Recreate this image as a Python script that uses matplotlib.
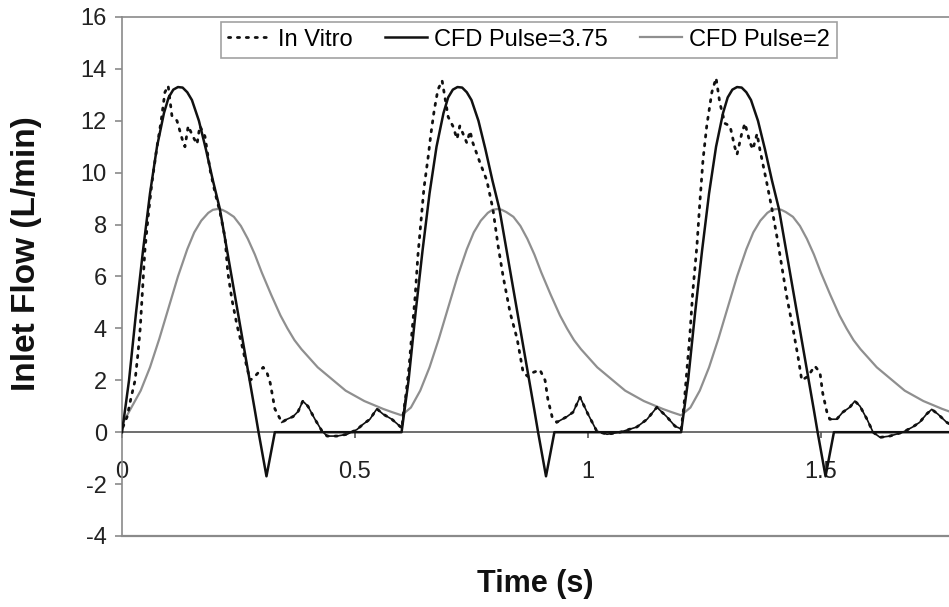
import matplotlib
matplotlib.use("Agg")
import matplotlib.pyplot as plt
import numpy as np

plt.rcParams['font.family'] = ['Liberation Sans', 'DejaVu Sans']
plt.rcParams['axes.unicode_minus'] = False

# one cardiac cycle of each CFD inlet waveform (time in s, flow in L/min)
PERIOD = 0.6
N_CYCLES = 3

cfd375_t = [0.0, 0.015, 0.03, 0.045, 0.06, 0.075, 0.09, 0.1, 0.11, 0.12, 0.13, 0.14,
            0.15, 0.165, 0.18, 0.195, 0.21, 0.225, 0.24, 0.255, 0.27, 0.285, 0.293,
            0.31, 0.328, 0.6]
cfd375_v = [0.0, 2.0, 4.6, 7.0, 9.2, 11.0, 12.3, 12.9, 13.2, 13.3, 13.28, 13.1,
            12.8, 12.0, 10.9, 9.7, 8.6, 7.05, 5.5, 3.95, 2.4, 0.85, 0.0,
            -1.7, 0.0, 0.0]

cfd2_t = [0.0, 0.02, 0.04, 0.06, 0.08, 0.10, 0.12, 0.14, 0.155, 0.17, 0.185, 0.195,
          0.205, 0.215, 0.225, 0.24, 0.255, 0.27, 0.285, 0.30, 0.32, 0.34, 0.355, 0.37,
          0.385, 0.40, 0.42, 0.44, 0.46, 0.48, 0.50, 0.52, 0.54, 0.56, 0.58, 0.6]
cfd2_v = [0.65, 0.95, 1.6, 2.5, 3.6, 4.8, 6.0, 7.05, 7.7, 8.15, 8.45, 8.57,
          8.6, 8.57, 8.48, 8.3, 7.95, 7.45, 6.85, 6.15, 5.3, 4.5, 4.0, 3.55,
          3.2, 2.9, 2.5, 2.2, 1.9, 1.6, 1.4, 1.2, 1.05, 0.9, 0.77, 0.65]
cfd2_start = 0.3

# in vitro measurement, read over the whole record
vitro_t = [0.002, 0.011, 0.019, 0.028, 0.034, 0.039, 0.043, 0.049, 0.056, 0.064, 0.075, 0.084,
           0.092, 0.099, 0.107, 0.118, 0.129, 0.135, 0.142, 0.152, 0.161, 0.167, 0.178, 0.189,
           0.200, 0.210, 0.221, 0.227, 0.236, 0.247, 0.258, 0.268, 0.275, 0.285, 0.303, 0.311,
           0.318, 0.328, 0.343, 0.354, 0.367, 0.378, 0.388, 0.399, 0.414, 0.429, 0.440, 0.461,
           0.483, 0.504, 0.517, 0.532, 0.547, 0.560, 0.579, 0.592,
           0.601, 0.603, 0.609, 0.616, 0.622, 0.629, 0.635, 0.642, 0.648, 0.657, 0.663, 0.670,
           0.678, 0.687, 0.693, 0.700, 0.710, 0.719, 0.725, 0.732, 0.740, 0.747, 0.753, 0.768,
           0.783, 0.796, 0.807, 0.818, 0.833, 0.848, 0.861, 0.871, 0.882, 0.897, 0.908, 0.914,
           0.923, 0.933, 0.955, 0.968, 0.983, 1.000, 1.019, 1.041, 1.069, 1.105, 1.127, 1.148,
           1.169, 1.187, 1.197,
           1.200, 1.206, 1.212, 1.219, 1.225, 1.234, 1.240, 1.247, 1.255, 1.266, 1.275, 1.283,
           1.294, 1.305, 1.315, 1.320, 1.330, 1.337, 1.348, 1.354, 1.363, 1.369, 1.376, 1.384,
           1.395, 1.406, 1.416, 1.427, 1.440, 1.451, 1.459, 1.472, 1.487, 1.498, 1.504, 1.513,
           1.519, 1.534, 1.547, 1.562, 1.573, 1.584, 1.599, 1.612, 1.627, 1.648, 1.676, 1.697,
           1.712, 1.727, 1.738, 1.751, 1.770, 1.788]
vitro_v = [0.2, 0.6, 1.3, 2.0, 3.0, 4.0, 5.2, 7.0, 8.3, 9.6, 11.0, 12.0,
           13.1, 13.35, 12.2, 12.0, 11.3, 11.0, 11.8, 11.4, 11.1, 11.8, 11.4, 10.1,
           9.2, 8.5, 7.5, 6.15, 5.1, 4.1, 3.3, 2.5, 2.0, 2.15, 2.5, 2.3,
           1.9, 0.9, 0.38, 0.5, 0.6, 0.8, 1.2, 1.0, 0.5, 0.05, -0.15, -0.15,
           -0.08, 0.1, 0.3, 0.5, 0.9, 0.7, 0.5, 0.3,
           0.15, 0.6, 1.4, 2.5, 3.8, 5.2, 6.8, 8.2, 9.4, 10.6, 11.5, 12.4,
           13.2, 13.55, 12.9, 12.15, 11.8, 11.3, 11.8, 11.5, 11.15, 11.6, 11.15, 10.4,
           9.7, 8.6, 7.2, 6.0, 4.6, 3.6, 2.3, 2.15, 2.3, 2.4, 2.0, 1.27,
           0.6, 0.38, 0.6, 0.77, 1.35, 0.7, 0.04, -0.08, 0.0, 0.2, 0.5, 0.96,
           0.6, 0.23, 0.15,
           0.1, 1.0, 2.3, 3.8, 5.4, 7.2, 8.8, 10.5, 11.8, 13.1, 13.65, 12.7,
           11.9, 11.8, 11.0, 10.7, 11.5, 11.9, 11.15, 10.9, 11.5, 10.9, 10.3, 9.6,
           8.6, 7.5, 6.4, 5.2, 4.0, 2.9, 2.0, 2.15, 2.55, 2.3, 1.5, 0.77,
           0.5, 0.5, 0.77, 0.96, 1.2, 1.0, 0.5, 0.0, -0.2, -0.15, 0.0, 0.2,
           0.38, 0.7, 0.88, 0.7, 0.38, 0.2]
# stretches of the in vitro trace that print as a continuous line
vitro_solid = [(0.33, 0.61), (0.93, 1.205), (1.515, 1.80)]

x_ticks = [0, 0.5, 1, 1.5]
x_ticklabels = ['0', '0.5', '1', '1.5']
y_ticks = list(range(-4, 17, 2))


def repeat(t, v, n, period):
    tt = np.concatenate([np.asarray(t) + k * period for k in range(n)])
    vv = np.concatenate([np.asarray(v, dtype=float)] * n)
    return tt, vv


t375, v375 = repeat(cfd375_t, cfd375_v, N_CYCLES, PERIOD)
t2, v2 = repeat(cfd2_t, cfd2_v, N_CYCLES, PERIOD)
v2[0] = cfd2_start

fig = plt.figure(figsize=(9.49, 6.07), dpi=100)
ax = fig.add_axes([0.1286, 0.117, 0.8714, 0.855])

ax.plot(t2, v2, color='#8f8f8f', lw=1.6, label='CFD Pulse=2', zorder=2)
ax.plot(t375, v375, color='#111111', lw=1.8, label='CFD Pulse=3.75', zorder=3)
vt = np.asarray(vitro_t)
vv = np.asarray(vitro_v)
ax.plot(vt, vv, color='#111111', lw=2.0, ls=(0, (0.8, 2.4)), dash_capstyle='round',
        label='In Vitro', zorder=4)
for a, b in vitro_solid:
    m = (vt >= a) & (vt <= b)
    ax.plot(vt[m], vv[m], color='#111111', lw=1.2, zorder=4)

ax.set_xlim(0, 1.775)
ax.set_ylim(-4, 16)
ax.set_xticks(x_ticks)
ax.set_xticklabels(x_ticklabels)
ax.set_yticks(y_ticks)

for s in ['left', 'top']:
    ax.spines[s].set_color('#8a8a8a')
    ax.spines[s].set_linewidth(1.2)
ax.spines['right'].set_visible(False)
ax.spines['bottom'].set_position(('data', 0))
ax.spines['bottom'].set_color('#555555')
ax.spines['bottom'].set_linewidth(1.2)
ax.axhline(-4, color='#8a8a8a', lw=1.6, clip_on=False)

ax.tick_params(axis='y', direction='out', length=5, width=1.2, color='#8a8a8a',
               labelsize=17, labelcolor='#222222', pad=6)
ax.tick_params(axis='x', direction='out', length=4, width=1.2, color='#555555',
               labelsize=17, labelcolor='#222222', pad=17)

ax.set_xlabel('Time (s)', fontsize=22, fontweight='bold', color='#111111')
ax.set_ylabel('Inlet Flow (L/min)', fontsize=24, fontweight='bold', color='#111111')
ax.xaxis.set_label_coords(0.5, -0.064)
ax.yaxis.set_label_coords(-0.097, 0.545)

handles, labels = ax.get_legend_handles_labels()
order = [2, 1, 0]
leg = ax.legend([handles[i] for i in order], [labels[i] for i in order],
                loc='upper center', bbox_to_anchor=(0.4925, 0.991), ncol=3,
                fontsize=17, frameon=True, fancybox=False, edgecolor='#8a8a8a',
                handlelength=1.8, handletextpad=0.3, columnspacing=1.35,
                borderpad=0.3, borderaxespad=0)
leg.get_frame().set_linewidth(1.2)

fig.savefig('out.png', dpi=100)
